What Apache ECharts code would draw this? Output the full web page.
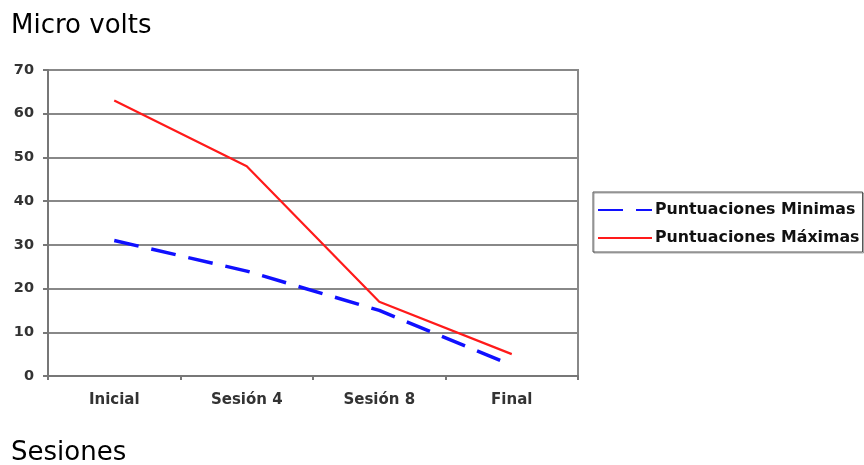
<!DOCTYPE html>
<html>
<head>
<meta charset="utf-8">
<script src="https://cdn.jsdelivr.net/npm/echarts@6/dist/echarts.min.js"></script>
<style>
  html, body { margin: 0; padding: 0; background: #fff; }
  #chart { width: 864px; height: 465px; }
</style>
</head>
<body>
<div id="chart"></div>
<script>
// Sessions on the x axis, micro-volt readings on the y axis
const categories = ['Inicial', 'Sesión 4', 'Sesión 8', 'Final'];
const minScores = [31, 24, 15, 2.5];
const maxScores = [63, 48, 17, 5];
const yTicks = [0, 10, 20, 30, 40, 50, 60, 70];

const chart = echarts.init(document.getElementById('chart'));
const boldFont = 'DejaVu Sans, Verdana, sans-serif';
const titleStyle = { fontFamily: 'DejaVu Sans, Verdana, sans-serif', fontWeight: 'normal', fontSize: 26, color: '#000' };

chart.setOption({
  animation: false,
  backgroundColor: '#fff',
  title: [
    { text: 'Micro volts', left: 11, top: 13, padding: 0, textStyle: titleStyle },
    { text: 'Sesiones', left: 11, top: 440, padding: 0, textStyle: titleStyle }
  ],
  grid: { left: 48, top: 70, width: 530, height: 306, show: true, borderColor: '#888', borderWidth: 2, backgroundColor: 'transparent' },
  legend: {
    orient: 'vertical',
    left: 593, top: 192,
    itemWidth: 54, itemHeight: 14, itemGap: 12,
    padding: [10, 3, 6, 4],
    borderColor: '#555', borderWidth: 1,
    shadowColor: 'rgba(0,0,0,0.35)', shadowOffsetX: 1, shadowOffsetY: 1,
    itemStyle: { opacity: 0 },
    textStyle: { fontFamily: boldFont, fontWeight: 'bold', fontSize: 15.8, color: '#111', padding: [0, 0, 0, -2] },
    data: ['Puntuaciones Minimas', 'Puntuaciones Máximas']
  },
  xAxis: {
    type: 'category',
    data: categories,
    boundaryGap: true,
    axisLine: { lineStyle: { color: '#777', width: 2 } },
    axisTick: { show: true, length: 4, lineStyle: { color: '#777', width: 2 } },
    axisLabel: { margin: 17, fontFamily: boldFont, fontWeight: 'bold', fontSize: 15, color: '#333' },
    splitLine: { show: false }
  },
  yAxis: {
    type: 'value',
    min: 0, max: 70, interval: 10,
    axisLine: { show: true, lineStyle: { color: '#777', width: 2 } },
    axisTick: { show: true, length: 5, lineStyle: { color: '#777', width: 2 } },
    axisLabel: { margin: 14, fontFamily: boldFont, fontWeight: 'bold', fontSize: 14.5, color: '#333',
                 formatter: v => yTicks.includes(v) ? String(v) : '' },
    splitLine: { show: true, lineStyle: { color: '#888', width: 2 } }
  },
  series: [
    {
      name: 'Puntuaciones Minimas',
      type: 'line',
      data: minScores,
      symbol: 'none',
      lineStyle: { color: '#1010ff', width: 3.5, type: [25, 13] },
      itemStyle: { color: '#1010ff' },
      z: 3
    },
    {
      name: 'Puntuaciones Máximas',
      type: 'line',
      data: maxScores,
      symbol: 'none',
      lineStyle: { color: '#ff1a1a', width: 2.2 },
      itemStyle: { color: '#ff1a1a' },
      z: 4
    }
  ]
});
</script>
</body>
</html>
